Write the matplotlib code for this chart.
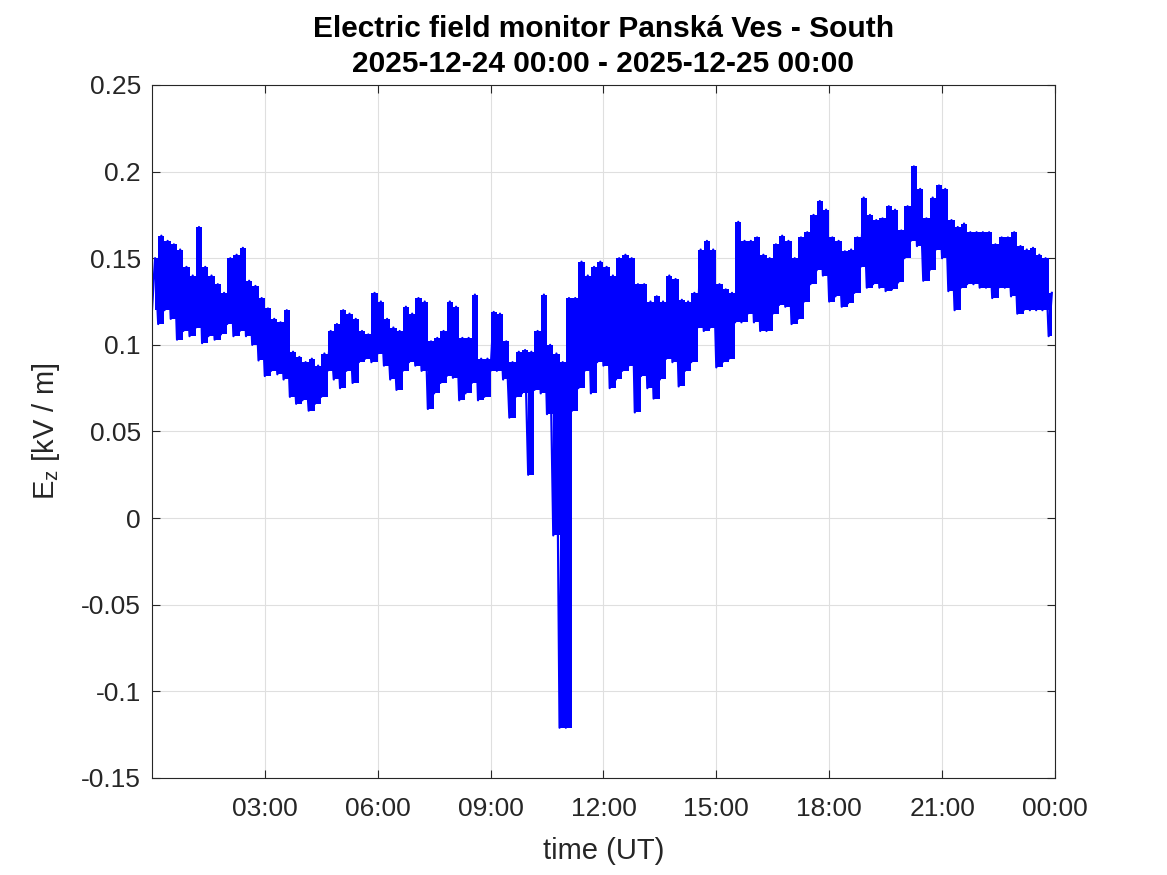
import numpy as np
import matplotlib.pyplot as plt

# 10-minute blocks over 2025-12-24; lower value at the start of each block,
# upper value five minutes later
ez_low = [
    0.120, 0.112, 0.120, 0.115, 0.103, 0.108,
    0.105, 0.110, 0.101, 0.105, 0.103, 0.106,
    0.112, 0.105, 0.108, 0.105, 0.100, 0.091,
    0.082, 0.085, 0.083, 0.080, 0.070, 0.066,
    0.068, 0.062, 0.066, 0.070, 0.085, 0.080,
    0.075, 0.085, 0.078, 0.090, 0.092, 0.090,
    0.095, 0.088, 0.080, 0.074, 0.085, 0.090,
    0.088, 0.085, 0.063, 0.072, 0.078, 0.082,
    0.081, 0.068, 0.072, 0.078, 0.068, 0.070,
    0.085, 0.085, 0.080, 0.058, 0.070, 0.072,
    0.025, 0.074, 0.072, 0.060, -0.010, -0.121,
    -0.121, 0.062, 0.075, 0.085, 0.072, 0.090,
    0.088, 0.075, 0.080, 0.085, 0.088, 0.061,
    0.082, 0.075, 0.069, 0.080, 0.092, 0.090,
    0.076, 0.085, 0.090, 0.110, 0.108, 0.110,
    0.087, 0.090, 0.092, 0.113, 0.113, 0.118,
    0.113, 0.108, 0.108, 0.118, 0.123, 0.122,
    0.112, 0.115, 0.125, 0.135, 0.143, 0.140,
    0.125, 0.128, 0.122, 0.124, 0.130, 0.145,
    0.133, 0.135, 0.133, 0.131, 0.132, 0.136,
    0.150, 0.160, 0.157, 0.137, 0.143, 0.155,
    0.150, 0.131, 0.120, 0.133, 0.135, 0.135,
    0.133, 0.133, 0.127, 0.133, 0.133, 0.128,
    0.118, 0.120, 0.120, 0.120, 0.120, 0.105,
]
ez_high = [
    0.150, 0.163, 0.160, 0.158, 0.155, 0.145,
    0.140, 0.168, 0.145, 0.140, 0.135, 0.130,
    0.150, 0.152, 0.156, 0.137, 0.134, 0.127,
    0.121, 0.115, 0.113, 0.120, 0.096, 0.093,
    0.090, 0.092, 0.088, 0.095, 0.108, 0.112,
    0.120, 0.118, 0.115, 0.108, 0.106, 0.130,
    0.125, 0.115, 0.110, 0.108, 0.122, 0.118,
    0.127, 0.125, 0.102, 0.104, 0.108, 0.125,
    0.122, 0.104, 0.104, 0.129, 0.092, 0.092,
    0.119, 0.118, 0.102, 0.090, 0.096, 0.097,
    0.096, 0.108, 0.129, 0.100, 0.095, 0.090,
    0.127, 0.127, 0.148, 0.140, 0.145, 0.148,
    0.145, 0.140, 0.150, 0.152, 0.150, 0.135,
    0.135, 0.125, 0.128, 0.125, 0.140, 0.138,
    0.126, 0.125, 0.130, 0.155, 0.160, 0.155,
    0.135, 0.132, 0.130, 0.171, 0.160, 0.160,
    0.162, 0.152, 0.150, 0.158, 0.163, 0.160,
    0.150, 0.162, 0.165, 0.175, 0.183, 0.178,
    0.162, 0.160, 0.154, 0.155, 0.162, 0.185,
    0.175, 0.172, 0.173, 0.180, 0.178, 0.166,
    0.180, 0.203, 0.190, 0.173, 0.185, 0.192,
    0.190, 0.172, 0.168, 0.170, 0.165, 0.165,
    0.165, 0.165, 0.158, 0.162, 0.162, 0.165,
    0.157, 0.155, 0.156, 0.152, 0.150, 0.130,
]
xtick_hours = [3, 6, 9, 12, 15, 18, 21, 24]
xtick_labels = ['03:00', '06:00', '09:00', '12:00', '15:00', '18:00', '21:00', '00:00']
ytick_values = [-0.15, -0.1, -0.05, 0, 0.05, 0.1, 0.15, 0.2, 0.25]
ytick_labels = ['-0.15', '-0.1', '-0.05', '0', '0.05', '0.1', '0.15', '0.2', '0.25']

# interleave low/high samples into one time series (hours)
t0 = np.arange(len(ez_low)) * 10 / 60
t = np.column_stack([t0, t0 + 5 / 60]).ravel()
ez = np.column_stack([ez_low, ez_high]).ravel()

plt.rcParams['font.family'] = ['Liberation Sans', 'DejaVu Sans']
axis_col = '#262626'
blue = '#0000ff'

fig = plt.figure(figsize=(11.67, 8.75), dpi=100)
ax = fig.add_axes([0.1302, 0.1109, 0.7738, 0.7920])
# solid band per 10-min block, then the sample line on top for the spikes
ax.fill_between(t0 + 5 / 60, ez_low, ez_high, step='mid', color=blue, linewidth=0)
ax.plot(t, ez, color=blue, linewidth=1.6)

ax.set_xlim(0, 24)
ax.set_ylim(-0.15, 0.25)
ax.set_xticks(xtick_hours)
ax.set_xticklabels(xtick_labels)
ax.set_yticks(ytick_values)
ax.set_yticklabels(ytick_labels)
ax.grid(True, color='#dfdfdf', linewidth=0.8)
ax.set_axisbelow(True)
ax.tick_params(direction='in', length=6, width=0.8, colors=axis_col,
               labelsize=19, top=True, right=True)
ax.tick_params(axis='x', pad=14)
ax.tick_params(axis='y', pad=8)
for s in ax.spines.values():
    s.set_color(axis_col)
    s.set_linewidth(0.8)

ax.set_xlabel('time (UT)', fontsize=21, color=axis_col, labelpad=11)
ax.set_ylabel(r'$\mathregular{E_z}$ [kV / m]', fontsize=21, color=axis_col, labelpad=14)
ax.set_title('Electric field monitor Panská Ves - South\n2025-12-24 00:00 - 2025-12-25 00:00',
             fontsize=21.5, fontweight='bold', linespacing=1.35, pad=9)

fig.savefig('out.png', dpi=100)
